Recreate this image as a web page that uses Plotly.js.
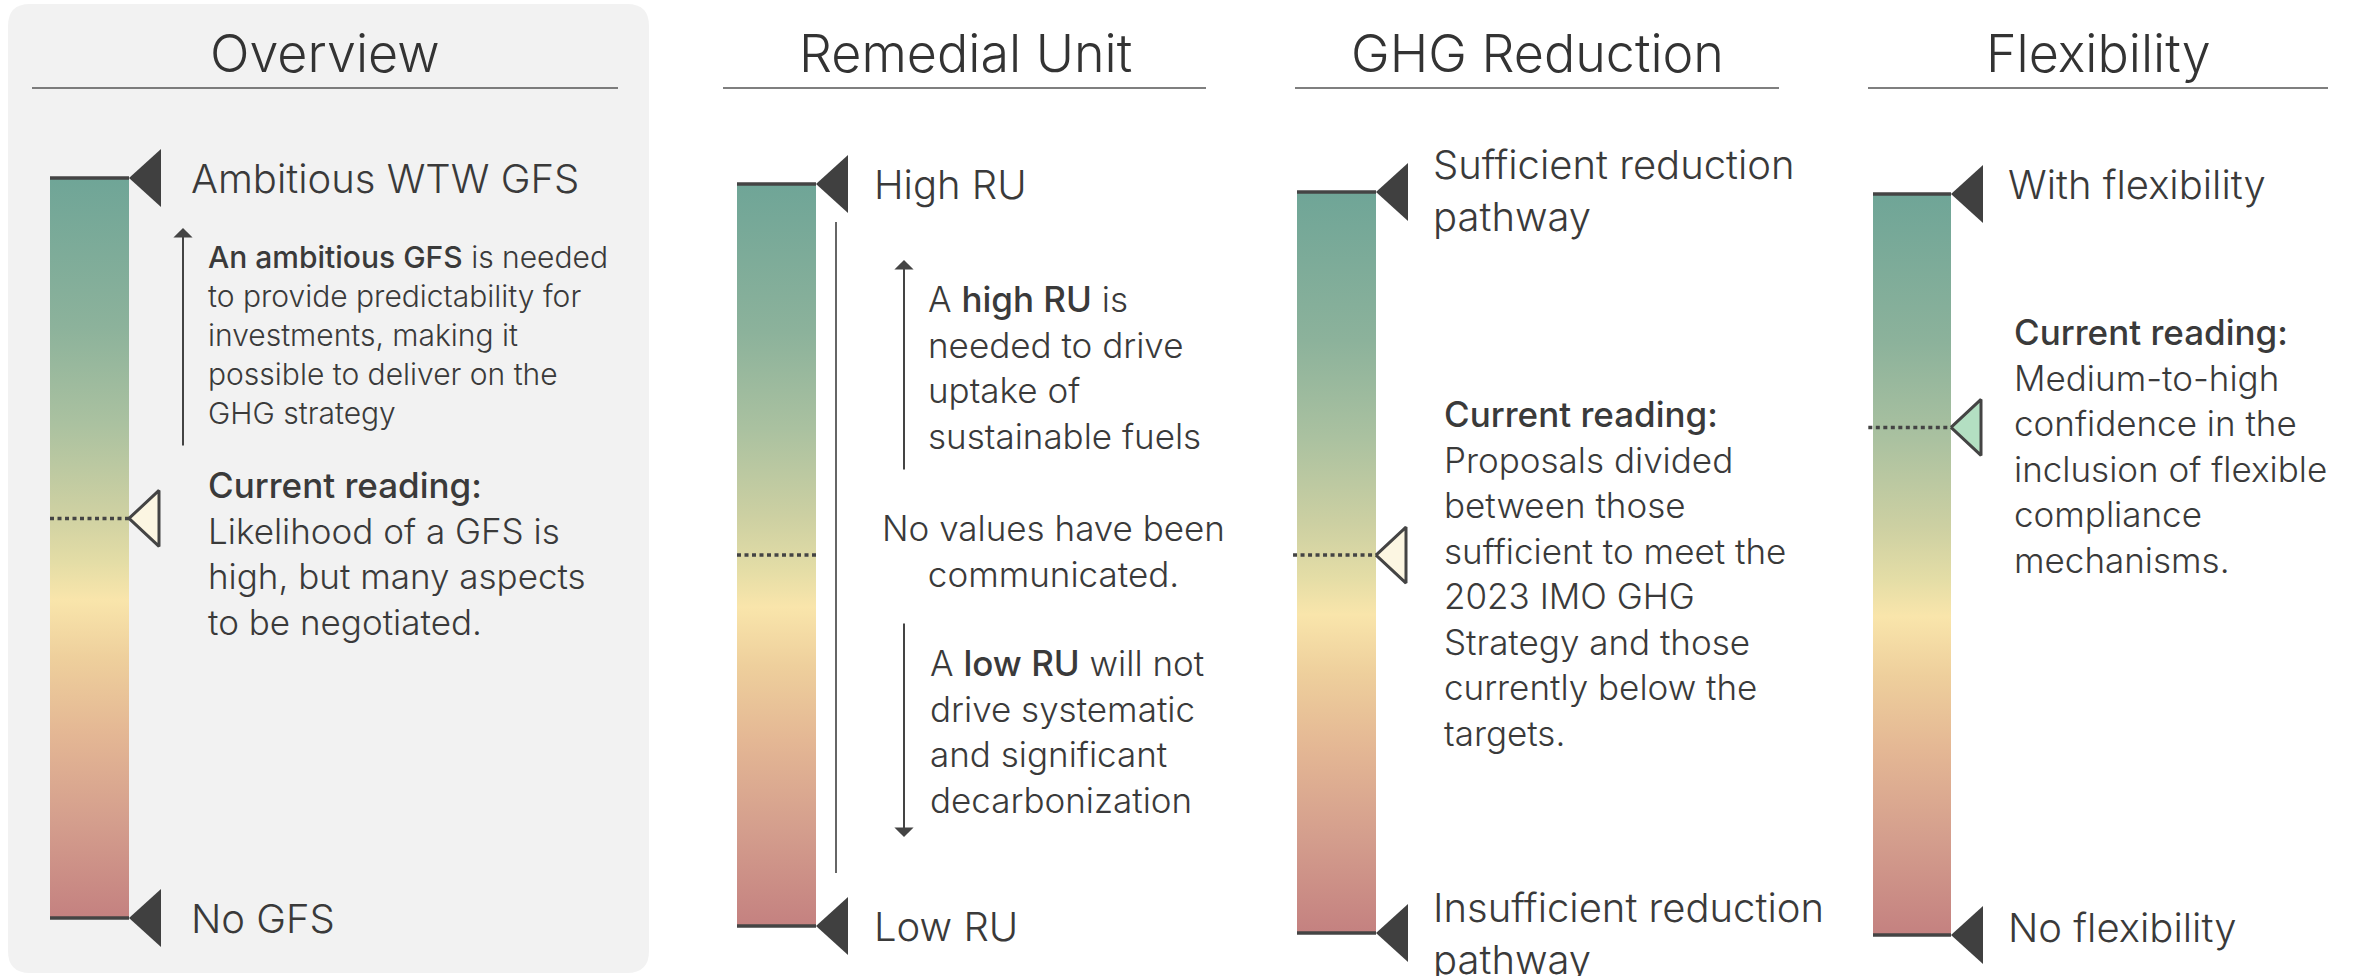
<!DOCTYPE html>
<html><head><meta charset="utf-8">
<script src="https://cdn.plot.ly/plotly-3.0.1.min.js"></script>
<style>html,body{margin:0;padding:0;background:#fff;} #chart{width:2369px;height:976px;}</style>
</head><body><div id="chart"></div>
<script>
// ---------------- DATA ----------------
const panelTitles = ['Overview', 'Remedial Unit', 'GHG Reduction', 'Flexibility'];
const topLabels = ['Ambitious WTW GFS', 'High RU', 'Sufficient reduction<br>pathway', 'With flexibility'];
const bottomLabels = ['No GFS', 'Low RU', 'Insufficient reduction<br>pathway', 'No flexibility'];
// position of the current reading on each scale (0 = bottom label, 1 = top label)
const currentReading = [0.54, 0.50, 0.51, 0.685];
const readingShown = [true, false, true, true];
const readingColors = ['#fcf6e2', null, '#fcf6e2', '#b3dfc2'];
// gradient of the scale bars, bottom (0) to top (1)
const gradientStops = [0, 0.13, 0.25, 0.35, 0.43, 0.48, 0.55, 0.67, 0.8, 1];
const gradientColors = ['rgb(196,129,128)', 'rgb(212,158,141)', 'rgb(228,183,148)', 'rgb(238,207,156)',
  'rgb(249,229,171)', 'rgb(228,221,166)', 'rgb(205,208,162)', 'rgb(170,193,160)', 'rgb(140,178,155)', 'rgb(111,165,151)'];
const B = s => '<span style="font-family:Inter Medium, Inter;font-weight:500">' + s + '</span>';
const noteTexts = [
  B('An ambitious GFS') + ' is needed<br>to provide predictability for<br>investments, making it<br>possible to deliver on the<br>GHG strategy',
  B('Current reading:') + '<br>Likelihood of a GFS is<br>high, but many aspects<br>to be negotiated.',
  'A ' + B('high RU') + ' is<br>needed to drive<br>uptake of<br>sustainable fuels',
  'No values have been<br>communicated.',
  'A ' + B('low RU') + ' will not<br>drive systematic<br>and significant<br>decarbonization',
  B('Current reading:') + '<br>Proposals divided<br>between those<br>sufficient to meet the<br>2023 IMO GHG<br>Strategy and those<br>currently below the<br>targets.',
  B('Current reading:') + '<br>Medium-to-high<br>confidence in the<br>inclusion of flexible<br>compliance<br>mechanisms.'
];

// ---------------- LAYOUT CONFIG (pixels) ----------------
const W = 2369, H = 976;
const FONT = '"Inter Light", Inter, "Open Sans", sans-serif';
const TXT = '#3a3a3a';
const P = [
  {barL: 50,   barR: 129,  barT: 178, barB: 918, labelX: 189,  labelShift: [0, 0],  titleCX: 325,  ulL: 32,   ulR: 618,  dotFrom: 0},
  {barL: 737,  barR: 816,  barT: 184, barB: 926, labelX: 872,  labelShift: [0, 0],  titleCX: 965,  ulL: 723,  ulR: 1206, dotFrom: 0},
  {barL: 1297, barR: 1376, barT: 192, barB: 933, labelX: 1431, labelShift: [2, 0],  titleCX: 1537, ulL: 1295, ulR: 1779, dotFrom: -0.05},
  {barL: 1873, barR: 1951, barT: 194, barB: 935, labelX: 2006, labelShift: [10, 8], titleCX: 2098, ulL: 1868, ulR: 2328, dotFrom: -0.06}
];
// note blocks: left x (or center), vertical centre, size, align
const notePos = [
  {x: 206,  y: 335, size: 30, align: 'left'},
  {x: 206,  y: 553, size: 35, align: 'left'},
  {x: 926,  y: 367, size: 35, align: 'left'},
  {x: 1053, y: 551, size: 35, align: 'center'},
  {x: 928,  y: 731, size: 35, align: 'left'},
  {x: 1442, y: 573, size: 35, align: 'left'},
  {x: 2012, y: 446, size: 35, align: 'left'}
];
const arrows = [ // x, tip y, tail y
  {x: 183, tip: 228, tail: 447},
  {x: 904, tip: 260, tail: 471},
  {x: 904, tip: 837, tail: 622}
];
const px = v => v / W, py = v => 1 - v / H;

const colorscale = gradientStops.map((s, i) => [s, gradientColors[i]]);
const traces = [];
const layout = {
  width: W, height: H, margin: {l: 0, r: 0, t: 0, b: 0},
  paper_bgcolor: '#ffffff', plot_bgcolor: 'rgba(0,0,0,0)',
  showlegend: false, hovermode: false,
  font: {family: FONT, color: TXT},
  shapes: [], annotations: []
};

P.forEach((p, i) => {
  const sfx = i === 0 ? '' : String(i + 1);
  const ux = p.barR - p.barL, uy = p.barB - p.barT;
  const xr0 = -p.barL / ux, yr0 = -(H - p.barB) / uy;
  layout['xaxis' + sfx] = {domain: [0, 1], range: [xr0, xr0 + W / ux], visible: false, fixedrange: true, anchor: 'y' + sfx};
  layout['yaxis' + sfx] = {domain: [0, 1], range: [yr0, yr0 + H / uy], visible: false, fixedrange: true, anchor: 'x' + sfx};
  const ax = {xaxis: 'x' + sfx, yaxis: 'y' + sfx, hoverinfo: 'skip', cliponaxis: false};

  // gradient scale bar
  traces.push(Object.assign({type: 'scatter', mode: 'lines', x: [0, 1, 1, 0, 0], y: [0, 0, 1, 1, 0],
    fill: 'toself', fillgradient: {type: 'vertical', colorscale: colorscale, start: 0, stop: 1},
    line: {width: 0, color: 'rgba(0,0,0,0)'}}, ax));
  // end caps
  traces.push(Object.assign({type: 'scatter', mode: 'lines', x: [0, 1, null, 0, 1], y: [0, 0, null, 1, 1],
    line: {color: '#444', width: 3.5}}, ax));
  // end triangles
  const tw = 32 / ux, th = 29 / uy;
  [0, 1].forEach(e => {
    traces.push(Object.assign({type: 'scatter', mode: 'lines', x: [1, 1 + tw, 1 + tw, 1], y: [e, e + th, e - th, e],
      fill: 'toself', fillcolor: '#404040', line: {width: 0, color: '#404040'}}, ax));
  });
  // current reading
  const v = currentReading[i];
  traces.push(Object.assign({type: 'scatter', mode: 'lines', x: [p.dotFrom, 1], y: [v, v],
    line: {color: '#444', width: 3.5, dash: '4px,3.5px'}}, ax));
  if (readingShown[i]) {
    const mw = 30 / ux, mh = 28 / uy;
    traces.push(Object.assign({type: 'scatter', mode: 'lines', x: [1, 1 + mw, 1 + mw, 1], y: [v, v + mh, v - mh, v],
      fill: 'toself', fillcolor: readingColors[i], line: {color: '#444', width: 3}}, ax));
  }

  // title + underline
  layout.annotations.push({xref: 'paper', yref: 'paper', x: px(p.titleCX), y: py(54), xanchor: 'center', yanchor: 'middle',
    text: panelTitles[i], showarrow: false, font: {family: FONT, size: 52, color: '#333', weight: 300}});
  layout.shapes.push({type: 'line', xref: 'paper', yref: 'paper', x0: px(p.ulL), x1: px(p.ulR), y0: py(88), y1: py(88),
    line: {color: '#555', width: 1.5}});

  // scale end labels
  [[topLabels[i], 1, p.labelShift[0]], [bottomLabels[i], 0, p.labelShift[1]]].forEach(([t, yv, sh]) => {
    layout.annotations.push({xref: 'paper', yref: 'y' + sfx, x: px(p.labelX), y: yv, yshift: sh,
      xanchor: 'left', yanchor: 'middle', align: 'left', text: t, showarrow: false,
      font: {family: FONT, size: 40, color: TXT, weight: 300}});
  });
});

// panel 1 grey background (rounded)
(function () {
  const L = 8, R = 649, T = 4, Bt = 973, r = 22;
  const X = v => px(v).toFixed(5), Y = v => py(v).toFixed(5);
  const path = `M${X(L + r)},${Y(T)} L${X(R - r)},${Y(T)} Q${X(R)},${Y(T)} ${X(R)},${Y(T + r)} L${X(R)},${Y(Bt - r)} ` +
    `Q${X(R)},${Y(Bt)} ${X(R - r)},${Y(Bt)} L${X(L + r)},${Y(Bt)} Q${X(L)},${Y(Bt)} ${X(L)},${Y(Bt - r)} ` +
    `L${X(L)},${Y(T + r)} Q${X(L)},${Y(T)} ${X(L + r)},${Y(T)} Z`;
  layout.shapes.push({type: 'path', xref: 'paper', yref: 'paper', path: path, fillcolor: '#f2f2f2',
    line: {width: 0}, layer: 'below'});
})();

// remedial unit bracket line
layout.shapes.push({type: 'line', xref: 'paper', yref: 'paper', x0: px(836), x1: px(836), y0: py(222), y1: py(873),
  line: {color: '#666', width: 2}});

// notes
noteTexts.forEach((t, k) => {
  const n = notePos[k];
  layout.annotations.push({xref: 'paper', yref: 'paper', x: px(n.x), y: py(n.y),
    xanchor: n.align === 'center' ? 'center' : 'left', yanchor: 'middle', align: n.align,
    text: t, showarrow: false, font: {family: FONT, size: n.size, color: TXT, weight: 300}});
});

// arrows
arrows.forEach(a => {
  layout.annotations.push({xref: 'paper', yref: 'paper', x: px(a.x), y: py(a.tip), ax: 0, ay: a.tail - a.tip,
    axref: 'pixel', ayref: 'pixel', text: '', showarrow: true, arrowhead: 1, arrowsize: 1.6, arrowwidth: 2,
    arrowcolor: '#444', standoff: 0, startstandoff: 0});
});

Plotly.newPlot('chart', traces, layout, {staticPlot: true, displayModeBar: false});
</script>
</body></html>
